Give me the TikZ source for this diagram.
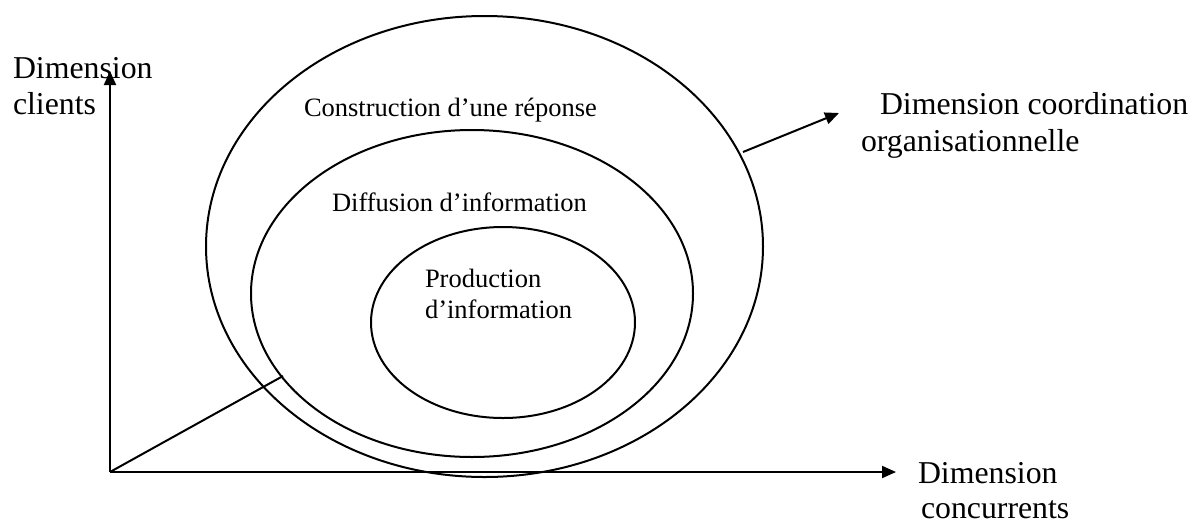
\documentclass[tikz,border=0pt]{standalone}
\usepackage{fontspec}
\setmainfont{Liberation Serif}
\usetikzlibrary{shapes.geometric,arrows.meta}
\begin{document}
\begin{tikzpicture}[x=1pt,y=-1pt,
  line width=2pt,
  ring/.style={ellipse,draw,inner sep=0pt,outer sep=0pt},
  big/.style={font=\fontsize{31.8}{36}\selectfont,inner sep=0pt,anchor=base west},
  small/.style={font=\fontsize{26.5}{31}\selectfont,inner sep=0pt,anchor=base west},
  axisarrow/.style={-{Triangle[length=14pt,width=12pt]}}]
\useasboundingbox (0,0) rectangle (1197,523);
% ellipses
\node[ring,minimum width=557pt,minimum height=461pt] (outer) at (484.5,246.5) {};
\node[ring,minimum width=442pt,minimum height=327pt] (middle) at (472,293.5) {};
\node[ring,minimum width=264pt,minimum height=191pt] (inner) at (503,322.5) {};
% axes
\coordinate (O) at (110,472);
\coordinate (ytip) at (110,71);
\coordinate (xtip) at (896,472);
\coordinate (diag) at (283,376);
\coordinate (cstart) at (743,152);
\coordinate (ctip) at (839,113);
\draw[axisarrow] (O) -- (ytip);
\draw[axisarrow] (O) -- (xtip);
\draw (O) -- (diag);
\draw[axisarrow] (cstart) -- (ctip);
% texts
\node[big] (dc1) at (12,78) {Dimension};
\node[big] (dc2) at (12,114) {clients};
\node[big] (do1) at (879,114) {Dimension coordination};
\node[big] (do2) at (860,151) {organisationnelle};
\node[big] (dn1) at (917,483) {Dimension};
\node[big,text depth=0pt] (dn2) at (920,518) {concurrents};
\node[small] (t1) at (303,116) {Construction d’une réponse};
\node[small] (t2) at (331,211) {Diffusion d’information};
\node[small] (t3) at (424,287) {Production};
\node[small] (t4) at (424,318) {d’information};
\end{tikzpicture}
\end{document}
